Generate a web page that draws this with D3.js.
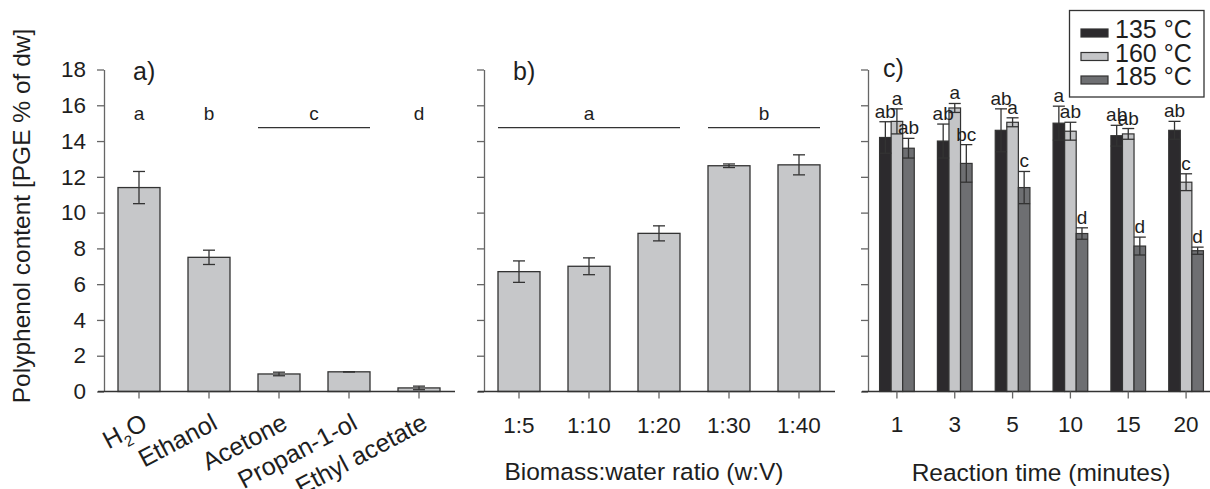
<!DOCTYPE html>
<html>
<head>
<meta charset="utf-8">
<script src="https://cdn.jsdelivr.net/npm/d3@7"></script>
<style>
  body { margin: 0; background: #fff; }
  text { font-family: "Liberation Sans", Arial, Helvetica, sans-serif; fill: #1e1e1e; }
</style>
</head>
<body>
<div id="chart-area"></div>
<script>
'use strict';

// panel a: solvent
const solvents = ['H2O', 'Ethanol', 'Acetone', 'Propan-1-ol', 'Ethyl acetate'];
const solventMean = [11.4, 7.5, 0.98, 1.1, 0.2];
const solventErr = [0.9, 0.4, 0.1, 0.0, 0.1];
const solventLetters = ['a', 'b', 'c', 'd'];
const solventGroups = [['H2O', 'H2O'], ['Ethanol', 'Ethanol'], ['Acetone', 'Propan-1-ol'], ['Ethyl acetate', 'Ethyl acetate']];

// panel b: biomass:water ratio
const ratios = ['1:5', '1:10', '1:20', '1:30', '1:40'];
const ratioMean = [6.7, 7.0, 8.84, 12.62, 12.67];
const ratioErr = [0.6, 0.47, 0.42, 0.1, 0.56];
const ratioLetters = ['a', 'b'];
const ratioGroups = [['1:5', '1:20'], ['1:30', '1:40']];

// panel c: reaction time x temperature
const times = ['1', '3', '5', '10', '15', '20'];
const temps = ['135 °C', '160 °C', '185 °C'];
const mean135 = [14.2, 14.0, 14.6, 15.0, 14.3, 14.6];
const err135 = [0.88, 0.95, 1.2, 0.95, 0.58, 0.5];
const mean160 = [15.1, 15.85, 15.05, 14.55, 14.4, 11.7];
const err160 = [0.7, 0.25, 0.25, 0.5, 0.3, 0.47];
const mean185 = [13.6, 12.75, 11.4, 8.83, 8.13, 7.87];
const err185 = [0.55, 1.05, 0.9, 0.32, 0.5, 0.2];
const sig135 = ['ab', 'ab', 'ab', 'a', 'ab', 'ab'];
const sig160 = ['a', 'a', 'a', 'ab', 'ab', 'c'];
const sig185 = ['ab', 'bc', 'c', 'd', 'd', 'd'];

const yTicks = [0, 2, 4, 6, 8, 10, 12, 14, 16, 18];

let svg = d3.select('#chart-area').append('svg')
    .attr('width', 1210)
    .attr('height', 489);

let y = d3.scaleLinear()
    .domain([0, 18])
    .range([391.5, 69.5]);

let colours = d3.scaleOrdinal()
    .domain(temps)
    .range(['#2c2a2d', '#c4c5c7', '#6e6f72']);

const barStroke = '#333';
const axisGrey = '#666';

function yAxis(x0, withLabels) {
    let g = svg.append('g').attr('transform', 'translate(' + x0 + ',0)');
    g.call(d3.axisLeft(y).tickValues(yTicks).tickSize(7).tickSizeOuter(0).tickPadding(11)
        .tickFormat(withLabels ? d3.format('d') : ''));
    g.select('.domain').attr('stroke', axisGrey).attr('stroke-width', 1.3);
    g.selectAll('.tick line').attr('stroke', axisGrey).attr('stroke-width', 1.3);
    g.selectAll('.tick text')
        .style('font-size', '22.5px')
        .style('font-family', '"Liberation Sans", Arial, sans-serif')
        .attr('fill', '#1e1e1e');
}

function xBaseline(x, xStart, xEnd) {
    svg.append('line')
        .attr('x1', xStart).attr('x2', xEnd)
        .attr('y1', y(0)).attr('y2', y(0))
        .attr('stroke', '#333').attr('stroke-width', 1.4);
    let g = svg.append('g').attr('transform', 'translate(0,' + y(0) + ')');
    g.call(d3.axisBottom(x).tickSize(7).tickSizeOuter(0).tickFormat(''));
    g.select('.domain').remove();
    g.selectAll('.tick line').attr('stroke', axisGrey).attr('stroke-width', 1.3);
    return g;
}

function errorBars(g, data, cap) {
    let eb = g.selectAll('g.err')
        .data(data)
        .enter().append('g')
        .attr('class', 'err');
    eb.append('line')
        .attr('x1', (d) => d.cx).attr('x2', (d) => d.cx)
        .attr('y1', (d) => y(d.m - d.e)).attr('y2', (d) => y(d.m + d.e));
    eb.append('line')
        .attr('x1', (d) => d.cx - cap / 2).attr('x2', (d) => d.cx + cap / 2)
        .attr('y1', (d) => y(d.m + d.e)).attr('y2', (d) => y(d.m + d.e));
    eb.append('line')
        .attr('x1', (d) => d.cx - cap / 2).attr('x2', (d) => d.cx + cap / 2)
        .attr('y1', (d) => y(d.m - d.e)).attr('y2', (d) => y(d.m - d.e));
    eb.selectAll('line').attr('stroke', '#333').attr('stroke-width', 1.3);
}

function simplePanel(cats, means, errs, x0, letters, groups, tag) {
    let x = d3.scaleBand()
        .domain(cats)
        .range([x0, x0 + 350])
        .paddingInner(0.4)
        .paddingOuter(0.2);

    let g = svg.append('g');
    g.selectAll('rect')
        .data(means)
        .enter()
        .append('rect')
            .attr('x', (m, i) => x(cats[i]))
            .attr('y', (m) => y(m))
            .attr('width', x.bandwidth())
            .attr('height', (m) => y(0) - y(m))
            .attr('fill', '#c6c7c9')
            .attr('stroke', barStroke)
            .attr('stroke-width', 1.3);

    errorBars(g, means.map((m, i) => ({ cx: x(cats[i]) + x.bandwidth() / 2, m: m, e: errs[i] })), 12);

    // significance letters and bracket lines
    groups.forEach((gr, i) => {
        let left = x(gr[0]);
        let right = x(gr[1]) + x.bandwidth();
        svg.append('text')
            .attr('x', (left + right) / 2)
            .attr('y', y(15.2))
            .attr('text-anchor', 'middle')
            .style('font-size', '19px')
            .text(letters[i]);
        if (gr[0] !== gr[1]) {
            svg.append('line')
                .attr('x1', left).attr('x2', right)
                .attr('y1', y(14.75)).attr('y2', y(14.75))
                .attr('stroke', '#333').attr('stroke-width', 1.3);
        }
    });

    svg.append('text')
        .attr('x', x0 + 29)
        .attr('y', 80)
        .style('font-size', '25px')
        .text(tag);

    yAxis(x0, tag === 'a)');
    xBaseline(x, x0 - 6, x0 + 351);
    return x;
}

// panel a
let xa = simplePanel(solvents, solventMean, solventErr, 104, solventLetters, solventGroups, 'a)');
solvents.forEach((s) => {
    let t = svg.append('text')
        .attr('text-anchor', 'end')
        .attr('transform', 'translate(' + (xa(s) + xa.bandwidth() / 2 + 10) + ',428) rotate(-28)')
        .style('font-size', '25px');
    if (s === 'H2O') {
        t.append('tspan').text('H');
        t.append('tspan').attr('dy', 7).style('font-size', '15px').text('2');
        t.append('tspan').attr('dy', -7).text('O');
    } else {
        t.text(s);
    }
});

// panel b
let xb = simplePanel(ratios, ratioMean, ratioErr, 484, ratioLetters, ratioGroups, 'b)');
svg.selectAll('text.xb')
    .data(ratios)
    .enter().append('text')
        .attr('class', 'xb')
        .attr('x', (d) => xb(d) + xb.bandwidth() / 2)
        .attr('y', 433)
        .attr('text-anchor', 'middle')
        .style('font-size', '22.5px')
        .text((d) => d);
svg.append('text')
    .attr('x', 644).attr('y', 480)
    .attr('text-anchor', 'middle')
    .style('font-size', '24.5px')
    .text('Biomass:water ratio (w:V)');

// panel c
let x0c = 868;
let xc = d3.scaleBand()
    .domain(times)
    .range([x0c, 1215])
    .paddingInner(0.4)
    .paddingOuter(0.2);
let xs = d3.scaleBand()
    .domain(temps)
    .range([0, xc.bandwidth()]);

let seriesMean = [mean135, mean160, mean185];
let seriesErr = [err135, err160, err185];
let seriesSig = [sig135, sig160, sig185];
let cData = [];
times.forEach((t, i) => {
    temps.forEach((k, j) => {
        cData.push({
            t: t, k: k, m: seriesMean[j][i], e: seriesErr[j][i], s: seriesSig[j][i],
            cx: xc(t) + xs(k) + xs.bandwidth() / 2
        });
    });
});

let gc = svg.append('g');
gc.selectAll('rect')
    .data(cData)
    .enter().append('rect')
        .attr('x', (d) => xc(d.t) + xs(d.k))
        .attr('y', (d) => y(d.m))
        .attr('width', xs.bandwidth())
        .attr('height', (d) => y(0) - y(d.m))
        .attr('fill', (d) => colours(d.k))
        .attr('stroke', barStroke)
        .attr('stroke-width', 1.2);
errorBars(gc, cData, 12);
gc.selectAll('text.sig')
    .data(cData)
    .enter().append('text')
        .attr('class', 'sig')
        .attr('x', (d) => d.cx)
        .attr('y', (d) => y(d.m + d.e) - 4)
        .attr('text-anchor', 'middle')
        .style('font-size', '19px')
        .text((d) => d.s);

svg.append('text')
    .attr('x', 883).attr('y', 77)
    .style('font-size', '25px')
    .text('c)');

yAxis(x0c, false);
xBaseline(xc, x0c - 6, 1210);
svg.selectAll('text.xc')
    .data(times)
    .enter().append('text')
        .attr('class', 'xc')
        .attr('x', (d) => xc(d) + xc.bandwidth() / 2)
        .attr('y', 432)
        .attr('text-anchor', 'middle')
        .style('font-size', '22.5px')
        .text((d) => d);
svg.append('text')
    .attr('x', 1041).attr('y', 481)
    .attr('text-anchor', 'middle')
    .style('font-size', '24.5px')
    .text('Reaction time (minutes)');

// legend
let lg = svg.append('g');
lg.append('rect')
    .attr('x', 1069.5).attr('y', 10.5)
    .attr('width', 134.5).attr('height', 86.5)
    .attr('fill', '#fff')
    .attr('stroke', '#333')
    .attr('stroke-width', 1.3);
temps.forEach((k, i) => {
    lg.append('rect')
        .attr('x', 1081).attr('y', 29 + i * 23.5)
        .attr('width', 27).attr('height', 8)
        .attr('fill', colours(k))
        .attr('stroke', barStroke)
        .attr('stroke-width', 1.2);
    lg.append('text')
        .attr('x', 1115).attr('y', 38 + i * 23.5)
        .style('font-size', '25px')
        .text(k);
});

// y axis title
svg.append('text')
    .attr('transform', 'translate(30,216) rotate(-90)')
    .attr('text-anchor', 'middle')
    .style('font-size', '24.5px')
    .text('Polyphenol content [PGE % of dw]');
</script>
</body>
</html>
